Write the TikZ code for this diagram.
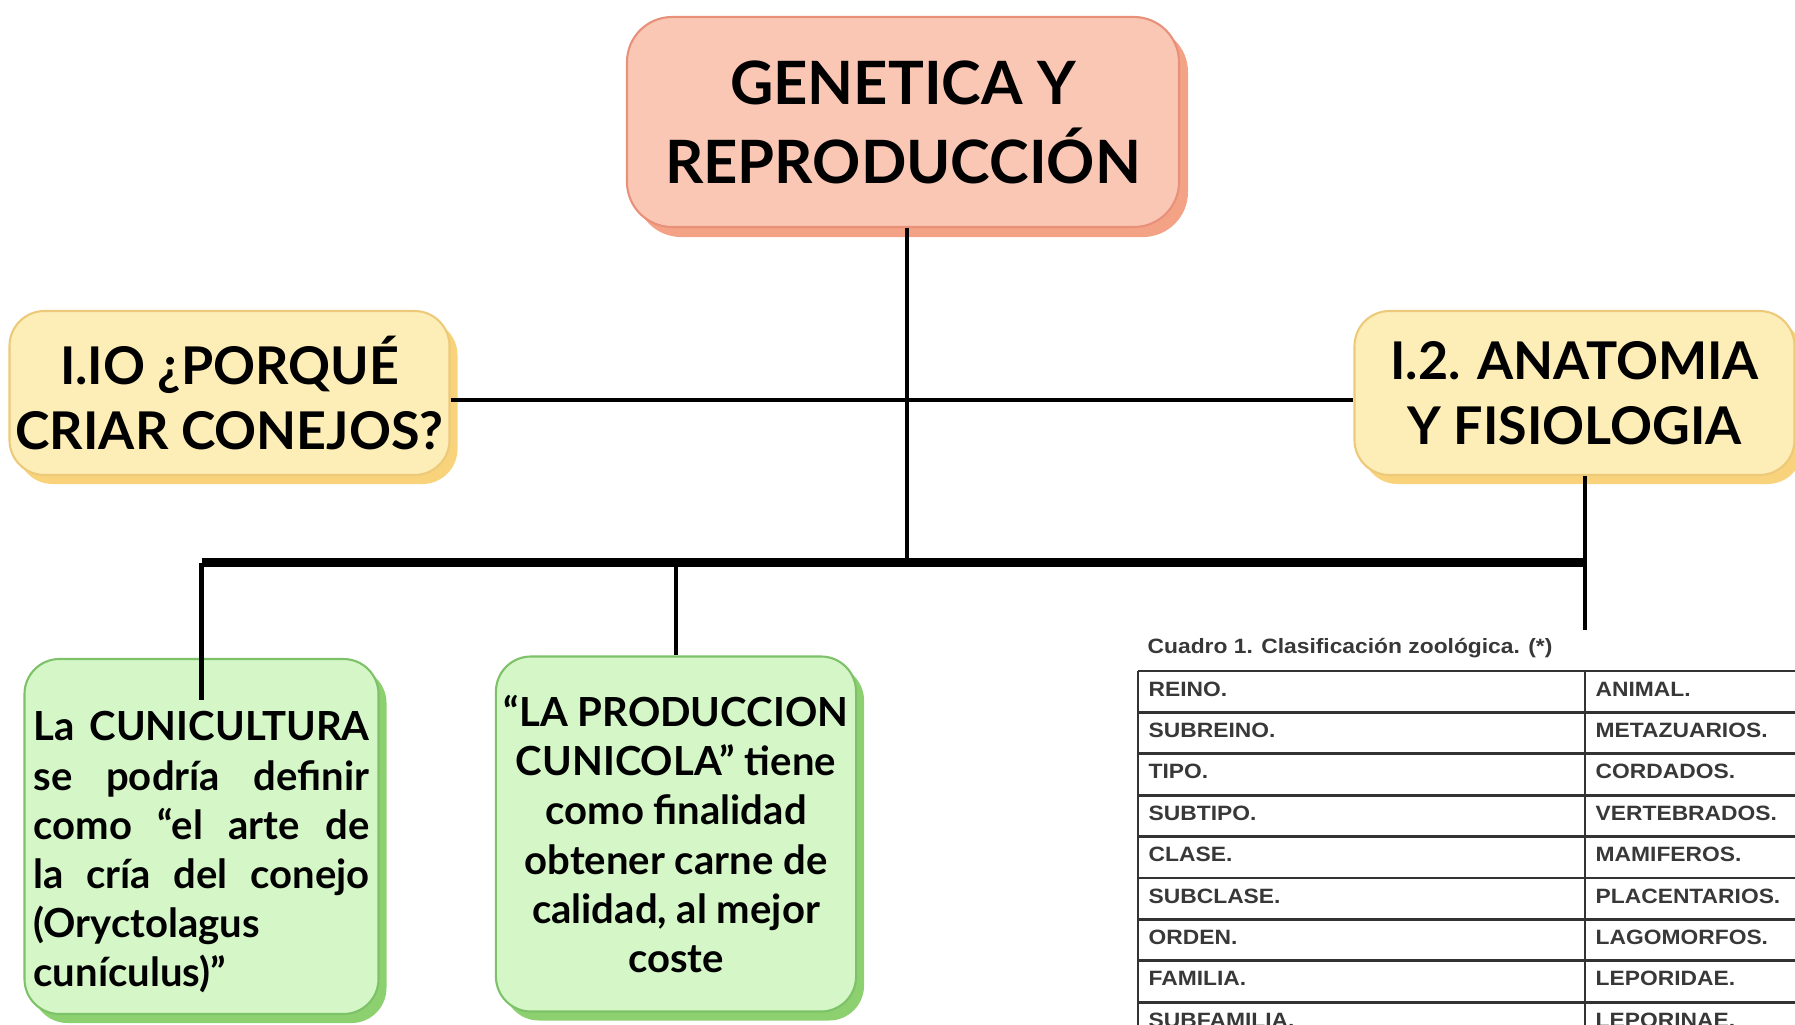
\documentclass[tikz,border=0pt]{standalone}
\usepackage{fontspec}
\setmainfont{Lato}
\newfontfamily\tabfont[FakeStretch=1.1]{Liberation Sans}
\usetikzlibrary{positioning, shadows, calc}
\hyphenpenalty=10000
\exhyphenpenalty=10000

\definecolor{salmonfill}{HTML}{FBC7B5}
\definecolor{salmonline}{HTML}{E8917A}
\definecolor{salmonshade}{HTML}{F3A285}
\definecolor{yellowfill}{HTML}{FDEDB6}
\definecolor{yellowline}{HTML}{EDC97A}
\definecolor{yellowshade}{HTML}{F8D37C}
\definecolor{greenfill}{HTML}{D5F7C8}
\definecolor{greenline}{HTML}{7DC268}
\definecolor{greenshade}{HTML}{8CD070}

\tikzset{
  topic/.style = {draw=salmonline, fill=salmonfill, line width=0.6pt,
    rounded corners=0.45cm, align=center, inner sep=1pt,
    minimum width=5.52cm, minimum height=2.1cm,
    drop shadow={shadow xshift=0.9mm, shadow yshift=-1mm, fill=salmonshade, opacity=1},
    font=\bfseries\fontsize{17}{22.5}\selectfont},
  subtopic/.style = {draw=yellowline, fill=yellowfill, line width=0.6pt,
    rounded corners=0.35cm, align=center, inner sep=1pt,
    minimum width=4.4cm, minimum height=1.64cm,
    drop shadow={shadow xshift=0.8mm, shadow yshift=-0.9mm, fill=yellowshade, opacity=1},
    font=\bfseries\fontsize{14.8}{18.5}\selectfont},
  note/.style = {draw=greenline, fill=greenfill, line width=0.6pt,
    rounded corners=0.35cm, inner xsep=0.08cm, minimum width=3.54cm,
    minimum height=3.55cm,
    drop shadow={shadow xshift=0.8mm, shadow yshift=-0.9mm, fill=greenshade, opacity=1},
    font=\bfseries\fontsize{11.4}{14}\selectfont},
  cell/.style = {anchor=base west, inner sep=0pt, text=black!78,
    font=\tabfont\bfseries\fontsize{5.9}{6.5}\selectfont},
  link/.style = {line width=1.4pt},
  bus/.style = {line width=2.3pt},
  rule/.style = {line width=0.8pt, black!80},
}

\begin{document}
\begin{tikzpicture}[font=\bfseries]
    \useasboundingbox (0,0) rectangle (17.95,-10.24);

    \node[topic] (gen) at (9.03,-1.22) {GENETICA Y\\REPRODUCCIÓN};
    \node[subtopic] (why) at (2.295,-3.93) {I.IO ¿PORQUÉ\\CRIAR CONEJOS?};
    \node[subtopic] (anat) at (15.745,-3.93) {I.2. ANATOMIA\\Y FISIOLOGIA};
    \node[note, text width=3.36cm, align=justify] (cun) at (2.015,-8.365)
        {\par\vspace*{0.12cm}La CUNICULTURA\linebreak se podría definir\linebreak como “el arte de\linebreak
         la cría del conejo\linebreak (Oryctolagus\newline cunículus)”};
    \node[note, align=center] (prod) at (6.76,-8.34)
        {“LA PRODUCCION\\CUNICOLA” tiene\\como finalidad\\obtener carne de\\calidad, al mejor\\coste};

    % bus bar
    \coordinate (busL) at (cun.north |- 0,-5.625);
    \coordinate (busM) at (prod.north |- 0,-5.625);
    \coordinate (busC) at ($(gen.south |- 0,-5.625)+(0.04,0)$);
    \coordinate (busR) at (15.85,-5.625);
    \coordinate (cunIn) at ($(cun.north)+(0,-0.42)$);
    \coordinate (anatEnd) at (anat.south |- 0,-6.3);
    \coordinate (midL) at ($(why.east)+(0,-0.07)$);
    \coordinate (midR) at (anat.west |- midL);

    \draw[link] (gen.south -| busC) -- (busC);
    \draw[link] (midL) -- (midR);
    \draw[bus] (busL) -- (busR);
    \draw[link] (busL) -- (cunIn);
    \draw[link] (busM) -- (prod.north);
    \draw[link] (anat.south -| busR) -- (anatEnd -| busR);

    % clasificacion
    \node[cell] (caption) at (11.47,-6.53) {Cuadro 1. Clasificación zoológica. (*)};
    \foreach \rank/\taxon [count=\i from 0] in {REINO./ANIMAL., SUBREINO./METAZUARIOS.,
        TIPO./CORDADOS., SUBTIPO./VERTEBRADOS., CLASE./MAMIFEROS.,
        SUBCLASE./PLACENTARIOS., ORDEN./LAGOMORFOS., FAMILIA./LEPORIDAE.,
        SUBFAMILIA./LEPORINAE.}
    {
        \node[cell] (rank\i) at (11.48,{-6.71-0.414*\i-0.25}) {\rank};
        \node[cell] (taxon\i) at (15.95,{-6.71-0.414*\i-0.25}) {\taxon};
    }
    \foreach \k in {0,...,9}
        \draw[rule] (11.38,{-6.71-0.414*\k}) -- (18.3,{-6.71-0.414*\k});
    \draw[rule] (11.38,-6.71) -- (11.38,-10.6);
    \draw[rule] (15.85,-6.71) -- (15.85,-10.6);
\end{tikzpicture}
\end{document}
